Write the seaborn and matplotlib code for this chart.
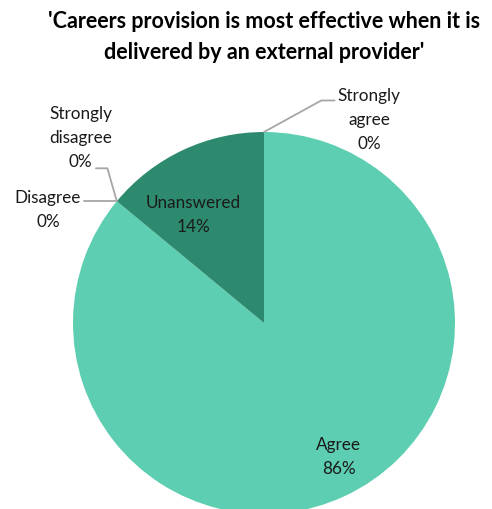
import numpy as np
import matplotlib
matplotlib.use("Agg")
import matplotlib.pyplot as plt
import seaborn as sns

sns.set_theme(style="white")
plt.rcParams["font.family"] = ["Lato", "DejaVu Sans"]

# Survey responses, in the order they are drawn clockwise from 12 o'clock
categories = ["Strongly agree", "Agree", "Disagree", "Strongly disagree", "Unanswered"]
shares = [0, 86, 0, 0, 14]
label_texts = ["Strongly\nagree", "Agree", "Disagree", "Strongly\ndisagree", "Unanswered"]

light = "#5DCEB1"
dark = "#2E8A6F"
colors = [light, light, light, dark, dark]

fig = plt.figure(figsize=(4.92, 5.09), dpi=100)
ax = fig.add_axes([0, 0, 1, 1])
ax.set_axis_off()

wedges, _ = ax.pie(shares, colors=colors, startangle=90, counterclock=False,
                   radius=1.0, center=(0, 0),
                   wedgeprops=dict(linewidth=0))

# pixel scale: 1 data unit = 191 px, pie centre at (264, 323) from top-left
ax.set_xlim(-264 / 191, (492 - 264) / 191)
ax.set_ylim(-(509 - 323) / 191, 323 / 191)
ax.set_aspect("auto")

fs = 12.3
txt_color = "#1a1a1a"
line_color = "#a6a6a6"

def label(i, x, y, ha="center"):
    ax.text(x, y, f"{label_texts[i]}\n{shares[i]}%", ha=ha, va="center",
            fontsize=fs, color=txt_color, linespacing=1.62)

# Inside labels
label(4, -0.37, 0.565)
label(1, 0.39, -0.70)

# Strongly agree: leader from the top of the pie
a = np.deg2rad(wedges[0].theta2)
p0 = (np.cos(a), np.sin(a))
ax.plot([p0[0], 0.30, 0.37], [p0[1], 1.165, 1.165], color=line_color, lw=1.3)
label(0, 0.55, 1.063)

# Disagree and Strongly disagree share the boundary with Unanswered
b = np.deg2rad(wedges[4].theta2)
p1 = (np.cos(b), np.sin(b))
ax.plot([p1[0], -0.82, -0.88], [p1[1], 0.81, 0.81], color=line_color, lw=1.3)
label(3, -0.96, 0.969)
ax.plot([p1[0], -0.94], [p1[1], p1[1]], color=line_color, lw=1.3)
label(2, -1.131, 0.59)

fig.text(0.537, 1 - 37 / 509,
         "'Careers provision is most effective when it is\ndelivered by an external provider'",
         ha="center", va="center", fontsize=15.5, fontweight="bold",
         color="black", linespacing=1.55)

fig.savefig("out.png", dpi=100, facecolor="white")
